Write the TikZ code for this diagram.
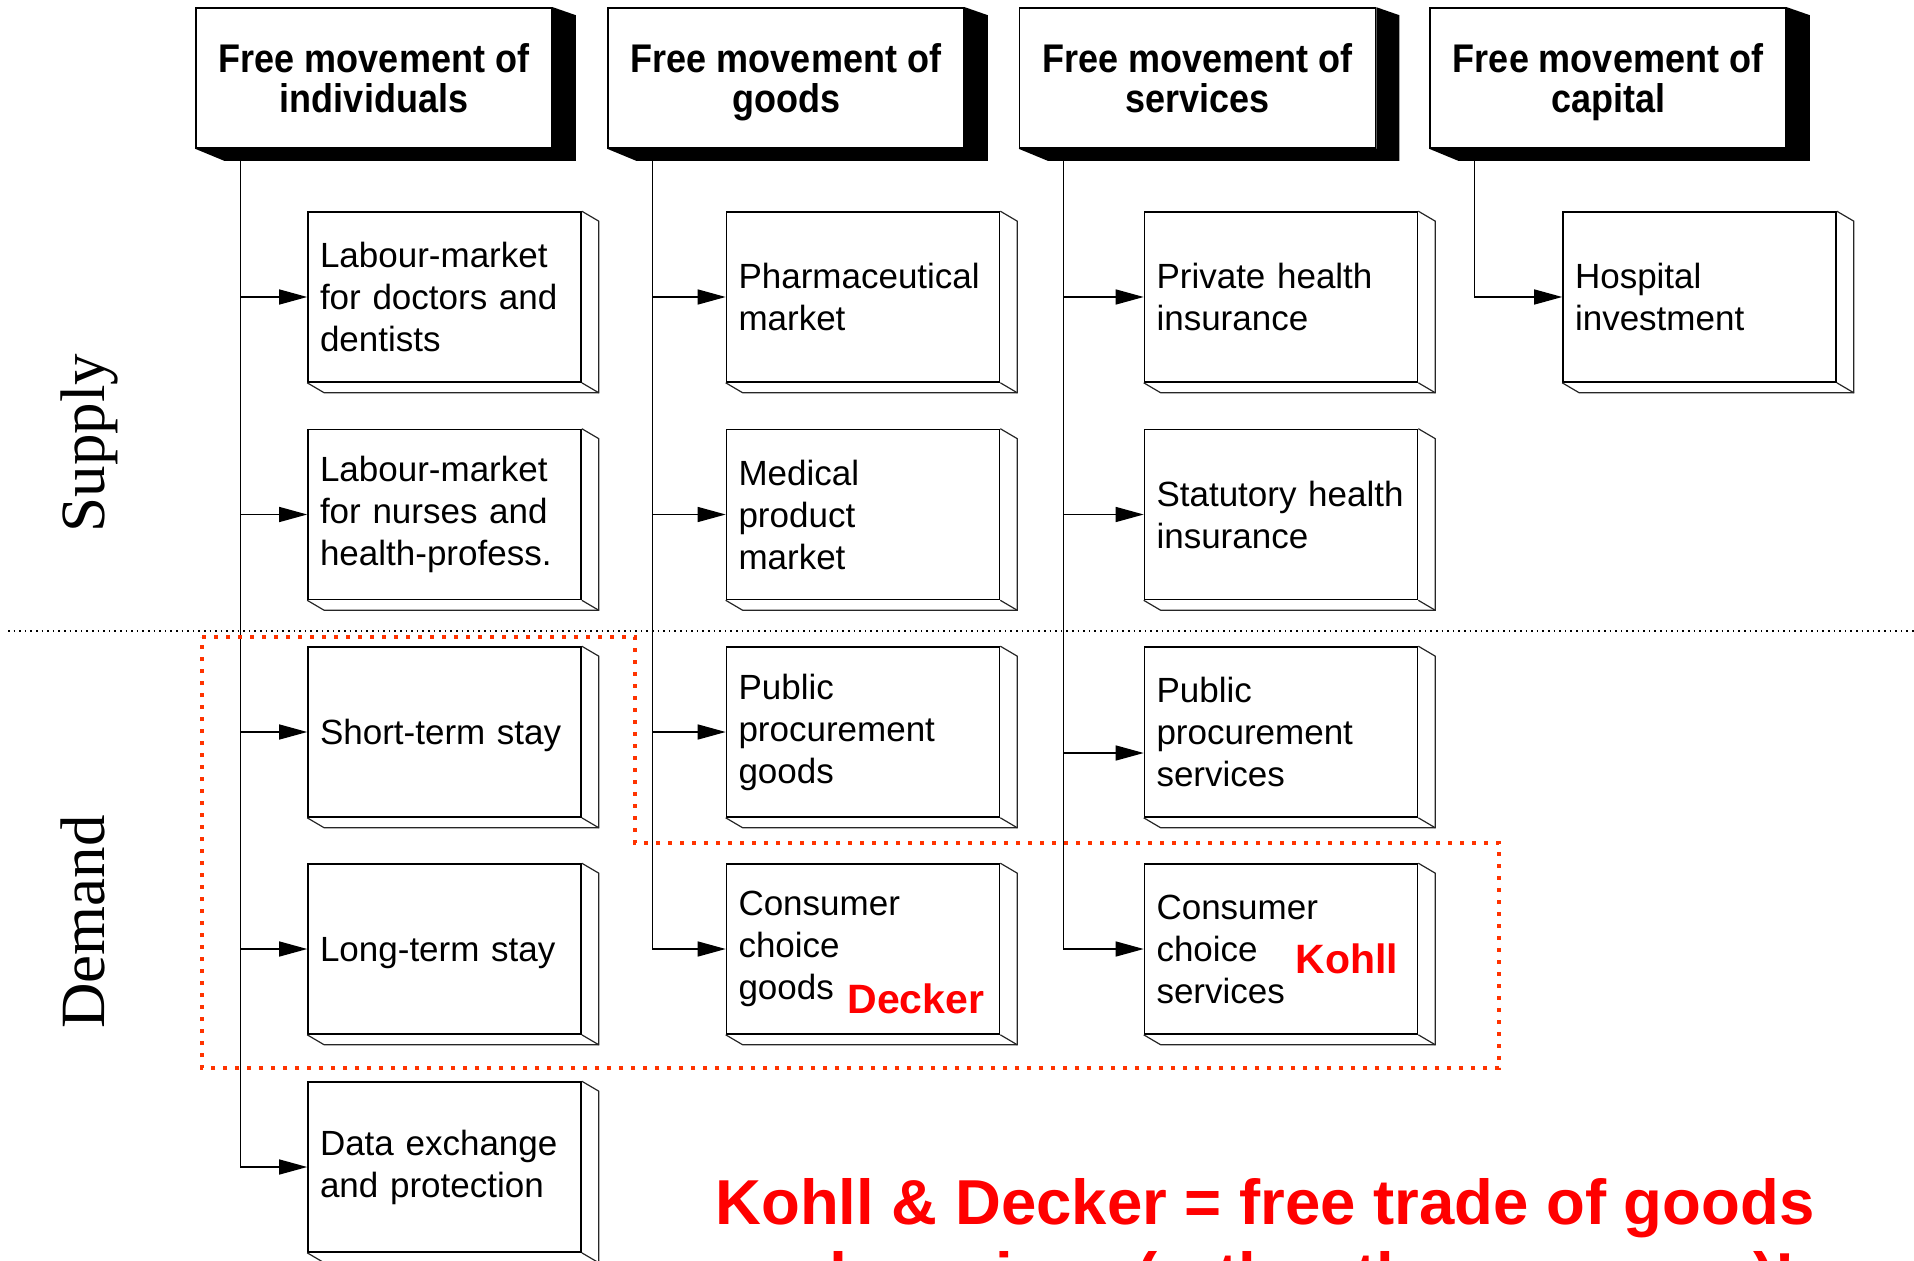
\documentclass[tikz,border=0pt]{standalone}
\usepackage{fontspec}
\setmainfont{Liberation Sans}
\newfontfamily\sideserif{Liberation Serif}
\newfontfamily\headfont[FakeStretch=0.9]{Liberation Sans}
\usetikzlibrary{arrows.meta,calc,positioning}
\definecolor{kdred}{HTML}{FF0000}
\definecolor{zonered}{HTML}{FF3300}

\begin{document}
\begin{tikzpicture}[x=0.5pt,y=-0.5pt,
	head/.style={draw,line width=0.8pt,fill=white,minimum width=178pt,minimum height=70pt,inner sep=0pt,text depth=0pt,align=center,font=\headfont\bfseries\fontsize{20}{20}\selectfont},
	item/.style={draw,line width=0.8pt,fill=white,minimum height=85pt,inner xsep=6pt,text width=124.5pt,align=left,font=\fontsize{17.5}{21}\selectfont},
	feed/.style={line width=0.7pt,-{Triangle[length=14pt,width=7.5pt]}},
	side/.style={line width=0.6pt,draw=black!85},
	zone/.style={draw=zonered,line width=2.1pt,dash pattern=on 2.1pt off 3.9pt},
	tag/.style={anchor=base west,inner sep=0pt,text=kdred,font=\bfseries\fontsize{20.5}{24}\selectfont}]
		\useasboundingbox (0,0) rectangle (1914,1261);
		% the four freedoms
		\node[head] (hInd) at (374,78) {Free movement of\\individuals};
		\node[head] (hGoods) at (786,78) {Free movement of\\goods};
		\node[head] (hServ) at (1197.5,78) {Free movement of\\services};
		\node[head] (hCap) at (1608,78) {Free movement of\\capital};
		\foreach \h in {hInd,hGoods,hServ,hCap}
			\fill (\h.north east) -- ++(23,8) -- ($(\h.south east)+(23,12)$) -- ($(\h.south west)+(29,12)$) -- (\h.south west) -- (\h.south east) -- cycle;
		% markets
		\node[item] (labDoc) at (444.5,297) {Labour-market\\for doctors and\\dentists};
		\node[item] (labNur) at (444.5,514.5) {Labour-market\\for nurses and\\health-profess.};
		\node[item,text depth=0pt] (shortStay) at (444.5,732) {Short-term stay};
		\node[item,text depth=0pt] (longStay) at (444.5,949) {Long-term stay};
		\node[item] (dataEx) at (444.5,1167) {Data exchange\\and protection};
		\node[item] (pharma) at (863,297) {Pharmaceutical\\market};
		\node[item] (medProd) at (863,514.5) {Medical\\product\\market};
		\node[item] (procGoods) at (863,732) {Public\\procurement\\goods};
		\node[item] (choiceGoods) at (863,949) {Consumer\\choice\\goods};
		\node[item] (privIns) at (1281,297) {Private health\\insurance};
		\node[item] (statIns) at (1281,514.5) {Statutory health\\insurance};
		\node[item] (procServ) at (1281,732) {Public\\procurement\\services};
		\node[item] (choiceServ) at (1281,949) {Consumer\\choice\\services};
		\node[item] (hospInv) at (1699.5,297) {Hospital\\investment};
		\foreach \n in {labDoc,labNur,shortStay,longStay,dataEx,pharma,medProd,procGoods,choiceGoods,privIns,statIns,procServ,choiceServ,hospInv} {
			\draw[side] (\n.north east) -- ++(17,10) -- ($(\n.south east)+(17,10)$) -- ($(\n.south west)+(17,10)$) -- (\n.south west);
			\draw[side] (\n.south east) -- ++(17,10);
		}
		% connectors
		\foreach \n in {labDoc,labNur,shortStay,longStay,dataEx}
			\draw[feed] ($(hInd.south west)+(45,0)$) |- (\n);
		\foreach \n in {pharma,medProd,procGoods,choiceGoods}
			\draw[feed] ($(hGoods.south west)+(45,0)$) |- (\n);
		\foreach \n in {privIns,statIns,choiceServ}
			\draw[feed] ($(hServ.south west)+(45,0)$) |- (\n);
		\draw[feed] ($(hServ.south west)+(45,0)$) |- ($(procServ.west)+(0,21)$);
		\draw[feed] ($(hCap.south west)+(45,0)$) |- (hospInv);
		% supply / demand
		\draw[dotted,line width=0.8pt] (8,631) -- (1914,631);
		\node[rotate=90,anchor=base,font=\sideserif\fontsize{31.5}{34}\selectfont] (supply) at (104,443) {Supply};
		\node[rotate=90,anchor=base,font=\sideserif\fontsize{31.5}{34}\selectfont] (demand) at (104,922) {Demand};
		\draw[zone] (202,637) -- (635,637) -- (635,843) -- (1499,843) -- (1499,1068) -- (202,1068) -- cycle;
		\node[tag] (decker) at (847,1013) {Decker};
		\node[tag] (kohll) at (1295,973) {Kohll};
		\node[anchor=base,align=center,inner sep=0pt,text=kdred,font=\bfseries\fontsize{31.75}{36.5}\selectfont] (slogan) at (1265,1297) {Kohll \& Decker = free trade of goods\\and services (rather than persons)!};
\end{tikzpicture}
\end{document}
